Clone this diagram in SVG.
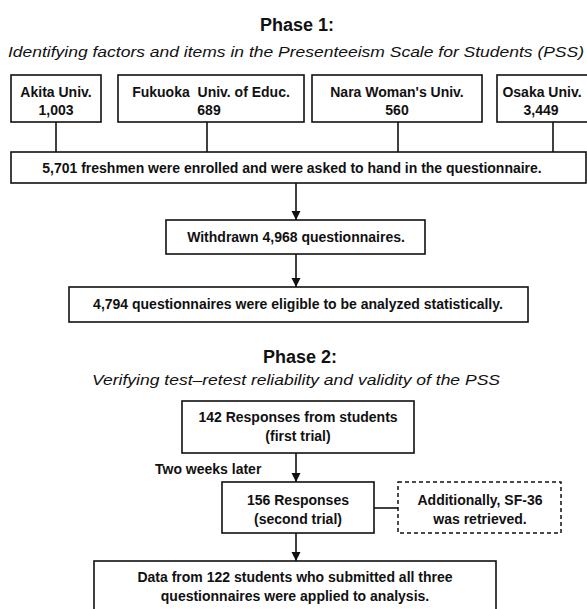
<svg xmlns="http://www.w3.org/2000/svg" width="587" height="609" viewBox="0 0 587 609">
<style>
.bg{fill:#fff}
.box{fill:#fff;stroke:#111;stroke-width:1.6}
.dash{fill:#fff;stroke:#111;stroke-width:1.5;stroke-dasharray:4 3}
.ln{stroke:#111;stroke-width:1.6;fill:none}
text{font-family:"Liberation Sans",Arial,Helvetica,sans-serif;fill:#111}
.t{font-size:14px;font-weight:bold;text-anchor:middle}
.l{font-size:14px;font-weight:bold}
.h{font-size:18px;font-weight:bold;text-anchor:middle}
.s{font-size:15.5px;font-style:italic}
</style>
<defs>
<marker id="arr" markerUnits="userSpaceOnUse" markerWidth="9" markerHeight="10" refX="9" refY="4.5" orient="auto">
<path d="M0,0 L9,4.5 L0,9 z" fill="#111"/>
</marker>
</defs>
<rect class="bg" x="0" y="0" width="587" height="609"/>
<g id="phase1-title">
<text class="h" x="297" y="31">Phase 1:</text>
<text class="s" x="8" y="57" textLength="576" lengthAdjust="spacingAndGlyphs">Identifying factors and items in the Presenteeism Scale for Students (PSS)</text>
</g>
<g id="connectors">
<line class="ln" x1="56" y1="122" x2="56" y2="152"/>
<line class="ln" x1="207" y1="122" x2="207" y2="152"/>
<line class="ln" x1="398" y1="122" x2="398" y2="152"/>
<line class="ln" x1="553" y1="122" x2="553" y2="152"/>
<line class="ln" x1="296" y1="183" x2="296" y2="220" marker-end="url(#arr)"/>
<line class="ln" x1="296" y1="254" x2="296" y2="287" marker-end="url(#arr)"/>
<line class="ln" x1="296" y1="453" x2="296" y2="482" marker-end="url(#arr)"/>
<line class="ln" x1="374" y1="508" x2="398" y2="508"/>
<line class="ln" x1="296" y1="533" x2="296" y2="561" marker-end="url(#arr)"/>
</g>
<g id="akita">
<rect class="box" x="11" y="75" width="90" height="47"/>
<text class="t" x="56" y="97">Akita Univ.</text>
<text class="t" x="56" y="115">1,003</text>
</g>
<g id="fukuoka">
<rect class="box" x="118" y="75" width="186" height="47"/>
<text class="t" x="211" y="97" xml:space="preserve">Fukuoka  Univ. of Educ.</text>
<text class="t" x="209" y="115">689</text>
</g>
<g id="nara">
<rect class="box" x="312" y="75" width="170" height="47"/>
<text class="t" x="397" y="97">Nara Woman's Univ.</text>
<text class="t" x="397" y="115">560</text>
</g>
<g id="osaka">
<rect class="box" x="497" y="75" width="95" height="47"/>
<text class="t" x="542" y="97">Osaka Univ.</text>
<text class="t" x="541" y="115">3,449</text>
</g>
<g id="enrolled">
<rect class="box" x="11" y="152" width="575" height="31"/>
<text class="t" x="292" y="173">5,701 freshmen were enrolled and were asked to hand in the questionnaire.</text>
</g>
<g id="withdrawn">
<rect class="box" x="166" y="220" width="259" height="34"/>
<text class="t" x="296" y="242">Withdrawn 4,968 questionnaires.</text>
</g>
<g id="eligible">
<rect class="box" x="69" y="287" width="459" height="35"/>
<text class="t" x="298" y="309">4,794 questionnaires were eligible to be analyzed statistically.</text>
</g>
<g id="phase2-title">
<text class="h" x="300" y="363">Phase 2:</text>
<text class="s" x="92" y="385" textLength="408" lengthAdjust="spacingAndGlyphs">Verifying test–retest reliability and validity of the PSS</text>
</g>
<g id="first-trial">
<rect class="box" x="182" y="401" width="232" height="52"/>
<text class="t" x="298" y="422">142 Responses from students</text>
<text class="t" x="298" y="441">(first trial)</text>
</g>
<g id="two-weeks">
<text class="l" x="155" y="474">Two weeks later</text>
</g>
<g id="second-trial">
<rect class="box" x="222" y="482" width="152" height="51"/>
<text class="t" x="298" y="505">156 Responses</text>
<text class="t" x="298" y="524">(second trial)</text>
</g>
<g id="sf36">
<rect class="dash" x="398" y="482" width="163" height="51"/>
<text class="t" x="480" y="505">Additionally, SF-36</text>
<text class="t" x="480" y="524">was retrieved.</text>
</g>
<g id="data">
<rect class="box" x="94" y="561" width="402" height="52"/>
<text class="t" x="295" y="582">Data from 122 students who submitted all three</text>
<text class="t" x="295" y="601">questionnaires were applied to analysis.</text>
</g>
</svg>
